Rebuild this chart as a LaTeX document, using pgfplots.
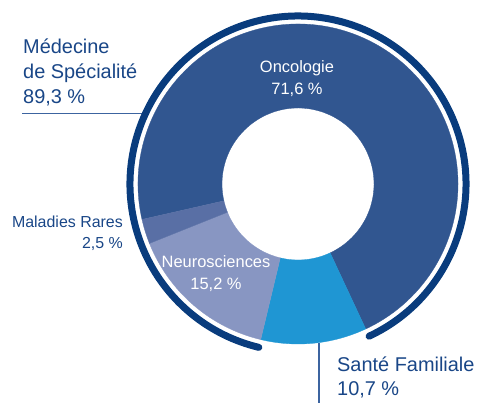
\documentclass[border=0pt]{standalone}
\usepackage{pgfplots}
\usepackage{pgfplotstable}
\pgfplotsset{compat=1.18}
\usepackage{fontspec}
\setmainfont{Liberation Sans}

\definecolor{onco}{RGB}{49,86,144}
\definecolor{sante}{RGB}{31,150,211}
\definecolor{neuro}{RGB}{136,150,194}
\definecolor{rares}{RGB}{89,111,165}
\definecolor{ring}{RGB}{9,60,125}
\definecolor{txt}{RGB}{25,70,135}
\definecolor{rule}{RGB}{60,100,160}

\pgfplotstableread{
name value
Oncologie 71.6
Sante 10.7
Neuro 15.2
Rares 2.5
}\piedata

% centre and radii (bp)
\def\cx{298}
\def\cy{219}
\def\Ro{160}
\def\Ri{76}
\def\Rr{168}

\newcommand\sector[3]{%
  \fill[#3,draw=#3,line width=0.3bp] (axis cs:{\cx+\Ro*cos(#1)},{\cy+\Ro*sin(#1)})
    arc[start angle=#1,end angle=#2,radius=\Ro bp]
    -- (axis cs:{\cx+\Ri*cos(#2)},{\cy+\Ri*sin(#2)})
    arc[start angle=#2,end angle=#1,radius=\Ri bp] -- cycle;}

\begin{document}
\begin{tikzpicture}
\useasboundingbox (0,0) rectangle (478bp,403bp);
\pgfplotstablegetelem{0}{value}\of\piedata \let\vA\pgfplotsretval
\pgfplotstablegetelem{1}{value}\of\piedata \let\vB\pgfplotsretval
\pgfplotstablegetelem{2}{value}\of\piedata \let\vC\pgfplotsretval
\pgfplotstablegetelem{3}{value}\of\piedata \let\vD\pgfplotsretval
\pgfmathsetmacro\aA{192.8}
\pgfmathsetmacro\aB{\aA-3.6*\vA}
\pgfmathsetmacro\aC{\aB-3.6*\vB}
\pgfmathsetmacro\aD{\aC-3.6*\vC}
\pgfmathsetmacro\aE{\aD-3.6*\vD}
\pgfmathsetmacro\aRingEnd{\aC+360}
\begin{axis}[
  x=1bp, y=1bp,
  xmin=0, xmax=478, ymin=0, ymax=403,
  hide axis, clip=false,
  anchor=origin, at={(0,0)},
]
\addplot[draw=none] coordinates {(0,0) (478,403)};
% leader lines
\draw[rule, line width=1.2bp] (axis cs:22,289.5) -- (axis cs:142,289.5);
\draw[rule, line width=1.2bp] (axis cs:319,60) -- (axis cs:319,0);
% sectors
\sector{\aA}{\aB}{onco}
\sector{\aB}{\aC}{sante}
\sector{\aC}{\aD}{neuro}
\sector{\aD}{\aE}{rares}
% outer ring: Medecine de Specialite
\draw[ring, line width=7bp, line cap=round]
  (axis cs:{\cx+\Rr*cos(\aB)},{\cy+\Rr*sin(\aB)})
  arc[start angle=\aB, end angle=\aRingEnd, radius=\Rr bp];
% labels
\node[anchor=base west, text=txt, font=\fontsize{20}{24}\selectfont, inner sep=0pt] at (axis cs:23,350) {Médecine};
\node[anchor=base west, text=txt, font=\fontsize{20}{24}\selectfont, inner sep=0pt] at (axis cs:23,325) {de Spécialité};
\node[anchor=base west, text=txt, font=\fontsize{20}{24}\selectfont, inner sep=0pt] at (axis cs:23,300) {89,3 \%};
\node[anchor=base east, text=txt, font=\fontsize{16}{20}\selectfont, inner sep=0pt] at (axis cs:123,176) {Maladies Rares};
\node[anchor=base east, text=txt, font=\fontsize{16}{20}\selectfont, inner sep=0pt] at (axis cs:123,155) {2,5 \%};
\node[anchor=base west, text=txt, font=\fontsize{20}{24}\selectfont, inner sep=0pt] at (axis cs:337,32) {Santé Familiale};
\node[anchor=base west, text=txt, font=\fontsize{20}{24}\selectfont, inner sep=0pt] at (axis cs:337,8) {10,7 \%};
\node[anchor=base, text=white, font=\fontsize{16.5}{20}\selectfont, inner sep=0pt] at (axis cs:297,331) {Oncologie};
\node[anchor=base, text=white, font=\fontsize{16.5}{20}\selectfont, inner sep=0pt] at (axis cs:297,309) {71,6 \%};
\node[anchor=base, text=white, font=\fontsize{16.5}{20}\selectfont, inner sep=0pt] at (axis cs:216,136) {Neurosciences};
\node[anchor=base, text=white, font=\fontsize{16.5}{20}\selectfont, inner sep=0pt] at (axis cs:216,114) {15,2 \%};
\end{axis}
\end{tikzpicture}
\end{document}
